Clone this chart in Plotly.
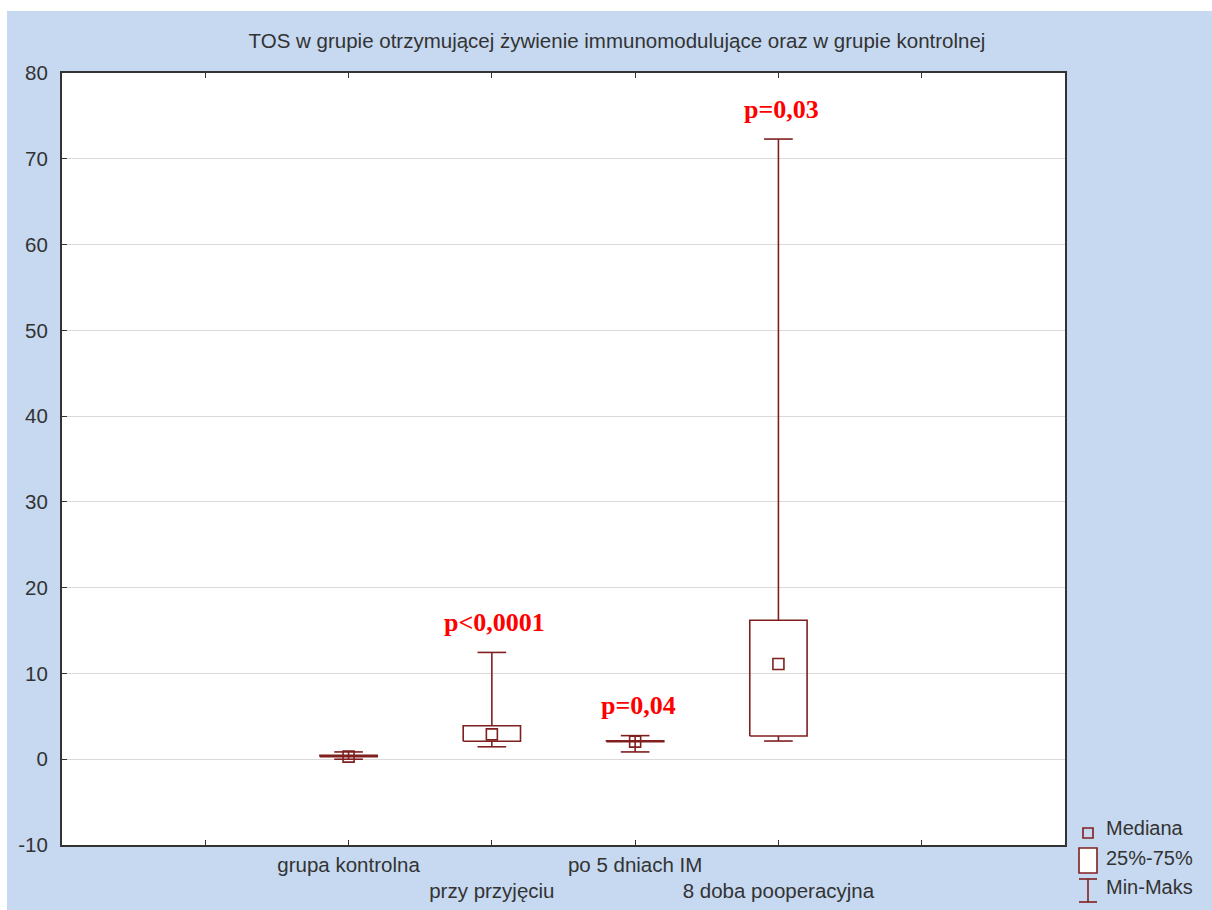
import plotly.graph_objects as go

# ---- data ----
categories = ["grupa kontrolna", "przy przyjęciu", "po 5 dniach IM", "8 doba pooperacyjna"]
mins = [0.0, 1.45, 0.85, 2.12]
q1s = [0.3, 2.1, 2.05, 2.7]
medians = [0.3, 2.9, 2.05, 11.1]
q3s = [0.45, 3.9, 2.15, 16.2]
maxs = [0.85, 12.45, 2.75, 72.3]
pvals = ["", "p<0,0001", "p=0,04", "p=0,03"]
y_ticks = [-10, 0, 10, 20, 30, 40, 50, 60, 70, 80]
y_ticklabels = ["-10", "0", "10", "20", "30", "40", "50", "60", "70", "80"]

BOX = "#7f1f1f"
BG = "#c6d9f0"
TXT = "#333333"

positions = [i + 2 for i in range(len(categories))]
half_box = 0.2
half_cap = 0.1

bx, by = [], []
for c, lo, a, b, hi in zip(positions, mins, q1s, q3s, maxs):
    # box
    bx += [c - half_box, c + half_box, c + half_box, c - half_box, c - half_box, None]
    by += [a, a, b, b, a, None]
    # whiskers
    bx += [c, c, None, c, c, None]
    by += [b, hi, None, a, lo, None]
    # caps
    bx += [c - half_cap, c + half_cap, None, c - half_cap, c + half_cap, None]
    by += [hi, hi, None, lo, lo, None]

fig = go.Figure()
fig.add_trace(go.Scatter(x=bx, y=by, mode="lines", line=dict(color=BOX, width=1.6),
                         showlegend=False, hoverinfo="skip"))
fig.add_trace(go.Scatter(x=positions, y=medians, mode="markers",
                         marker=dict(symbol="square-open", size=11, color=BOX,
                                     line=dict(color=BOX, width=1.6)),
                         showlegend=False))

for c, hi, p in zip(positions, maxs, pvals):
    if p:
        fig.add_annotation(x=c, y=hi, text="<b>" + p + "</b>", showarrow=False,
                           yanchor="middle", yshift=30, xshift=3,
                           font=dict(family="Liberation Serif", size=26, color="#ff0000"))

# pixel -> paper helpers (plot area: x 62..1065, y 73..845)
L, R, T, B = 62, 1065, 73, 845
def px(x):
    return (x - L) / (R - L)
def py(y):
    return (B - y) / (B - T)

shapes = []
# white outer border strips (top and left)
shapes.append(dict(type="rect", xref="paper", yref="paper", x0=px(0), x1=px(1212),
                   y0=py(0), y1=py(11), fillcolor="white", line=dict(width=0)))
shapes.append(dict(type="rect", xref="paper", yref="paper", x0=px(0), x1=px(7),
                   y0=py(0), y1=py(910), fillcolor="white", line=dict(width=0)))
# legend symbols
shapes.append(dict(type="rect", xref="paper", yref="paper", x0=px(1083), x1=px(1093),
                   y0=py(838), y1=py(828), line=dict(color=BOX, width=1.6)))
shapes.append(dict(type="rect", xref="paper", yref="paper", x0=px(1079), x1=px(1097),
                   y0=py(873), y1=py(848), fillcolor="white", line=dict(color=BOX, width=1.6)))
shapes.append(dict(type="line", xref="paper", yref="paper", x0=px(1079), x1=px(1097),
                   y0=py(879), y1=py(879), line=dict(color=BOX, width=1.6)))
shapes.append(dict(type="line", xref="paper", yref="paper", x0=px(1088), x1=px(1088),
                   y0=py(879), y1=py(902), line=dict(color=BOX, width=1.6)))
shapes.append(dict(type="line", xref="paper", yref="paper", x0=px(1079), x1=px(1097),
                   y0=py(902), y1=py(902), line=dict(color=BOX, width=1.6)))

legend_items = ["Mediana", "25%-75%", "Min-Maks"]
legend_y = [828, 858, 887]
for t, yy in zip(legend_items, legend_y):
    fig.add_annotation(xref="paper", yref="paper", x=px(1104), y=py(yy), text=t,
                       showarrow=False, xanchor="left", yanchor="middle",
                       font=dict(family="Liberation Sans", size=20, color=TXT))

tickvals = [1] + positions + [6]
ticktext = [""] + [c if i % 2 == 0 else "<br>" + c for i, c in enumerate(categories)] + [""]

fig.update_layout(
    width=1212, height=910,
    margin=dict(l=L, r=1212 - R, t=T, b=910 - B),
    paper_bgcolor=BG, plot_bgcolor="white",
    shapes=shapes,
    title=dict(text="TOS w grupie otrzymującej żywienie immunomodulujące oraz w grupie kontrolnej",
               x=617 / 1212, xanchor="center", y=1 - 41 / 910, yanchor="middle",
               font=dict(family="Liberation Sans", size=20.5, color=TXT)),
    font=dict(family="Liberation Sans", color=TXT),
    xaxis=dict(range=[0, 7], tickmode="array", tickvals=tickvals, ticktext=ticktext,
               tickangle=0, automargin=False,
               showgrid=False, zeroline=False, showline=True, linecolor="#333333", linewidth=2,
               mirror="allticks", ticks="inside", ticklen=5, tickcolor="#333333",
               tickfont=dict(size=20.5, color=TXT)),
    yaxis=dict(range=[-10, 80], tickmode="array", tickvals=y_ticks, ticktext=y_ticklabels,
               automargin=False, ticklabelstandoff=8,
               showgrid=True, gridcolor="#dadada", gridwidth=1, zeroline=False,
               showline=True, linecolor="#333333", linewidth=2, mirror=True,
               ticks="inside", ticklen=5, tickcolor="#333333",
               tickfont=dict(size=20.5, color=TXT)),
)

fig.write_html("out.html")
